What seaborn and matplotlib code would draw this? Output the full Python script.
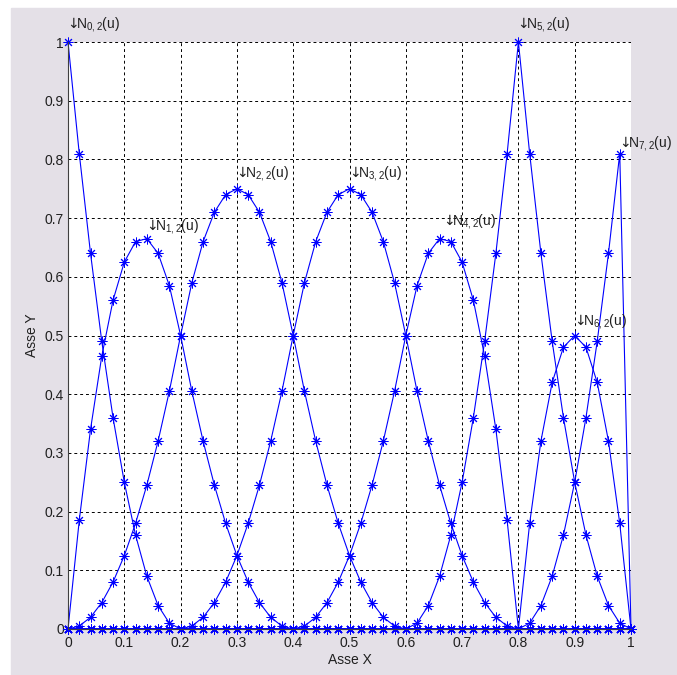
import numpy as np
import pandas as pd
import seaborn as sns
import matplotlib.pyplot as plt
from matplotlib.patches import Rectangle

# parametro u (passo 0.02)
u = [0.00, 0.02, 0.04, 0.06, 0.08, 0.10, 0.12, 0.14, 0.16, 0.18,
     0.20, 0.22, 0.24, 0.26, 0.28, 0.30, 0.32, 0.34, 0.36, 0.38,
     0.40, 0.42, 0.44, 0.46, 0.48, 0.50, 0.52, 0.54, 0.56, 0.58,
     0.60, 0.62, 0.64, 0.66, 0.68, 0.70, 0.72, 0.74, 0.76, 0.78,
     0.80, 0.82, 0.84, 0.86, 0.88, 0.90, 0.92, 0.94, 0.96, 0.98,
     1.00]

# funzioni di base N_{i,2}(u)
N0 = [1, .81, .64, .49, .36, .25, .16, .09, .04, .01, 0] + [0] * 40
N1 = [0, .185, .34, .465, .56, .625, .66, .665, .64, .585,
      .5, .405, .32, .245, .18, .125, .08, .045, .02, .005] + [0] * 31
N2 = [0, .005, .02, .045, .08, .125, .18, .245, .32, .405,
      .5, .59, .66, .71, .74, .75, .74, .71, .66, .59,
      .5, .405, .32, .245, .18, .125, .08, .045, .02, .005] + [0] * 21
N3 = [0] * 10 + [0, .005, .02, .045, .08, .125, .18, .245, .32, .405,
                 .5, .59, .66, .71, .74, .75, .74, .71, .66, .59,
                 .5, .405, .32, .245, .18, .125, .08, .045, .02, .005] + [0] * 11
N4 = [0] * 20 + [0, .005, .02, .045, .08, .125, .18, .245, .32, .405,
                 .5, .585, .64, .665, .66, .625, .56, .465, .34, .185] + [0] * 11
N5 = [0] * 30 + [0, .01, .04, .09, .16, .25, .36, .49, .64, .81,
                 1, .81, .64, .49, .36, .25, .16, .09, .04, .01, 0]
N6 = [0] * 40 + [0, .18, .32, .42, .48, .5, .48, .42, .32, .18, 0]
N7 = [0] * 40 + [0, .01, .04, .09, .16, .25, .36, .49, .64, .81, 0]

curves = [N0, N1, N2, N3, N4, N5, N6, N7]

# etichette e posizioni delle frecce
label_names = ['0,2', '1,2', '2,2', '3,2', '4,2', '5,2', '6,2', '7,2']
label_x = [0.0, 0.14, 0.30, 0.50, 0.667, 0.80, 0.90, 0.98]
label_y = [1.024, 0.68, 0.77, 0.77, 0.688, 1.024, 0.518, 0.821]

xticks = [0, 0.1, 0.2, 0.3, 0.4, 0.5, 0.6, 0.7, 0.8, 0.9, 1]
tick_labels = ['0', '0.1', '0.2', '0.3', '0.4', '0.5', '0.6', '0.7', '0.8', '0.9', '1']

df = pd.concat([pd.DataFrame({'u': u, 'N': c, 'curve': i}) for i, c in enumerate(curves)],
               ignore_index=True)

sns.set_style('white')
plt.rcParams['font.family'] = ['Liberation Sans', 'DejaVu Sans']
plt.rcParams['mathtext.fontset'] = 'dejavusans'

fig = plt.figure(figsize=(6.77, 6.75), dpi=100, facecolor='white')
fig.add_artist(Rectangle((11 / 677, 0), 1 - 11 / 677, 1 - 8 / 675,
                         transform=fig.transFigure, color='#e4e0e7', zorder=0))
ax = fig.add_axes([68 / 677, 1 - 629 / 675, 563 / 677, 587 / 675])
ax.set_facecolor('white')

sns.lineplot(data=df, x='u', y='N', units='curve', estimator=None, sort=False,
             color='blue', linewidth=0.8, marker=(8, 2, 0), markersize=7,
             markeredgecolor='blue', markeredgewidth=0.7, clip_on=False,
             legend=False, ax=ax)

# freccia senza lo spazio da simbolo di relazione
for name, lx, ly in zip(label_names, label_x, label_y):
    ax.text(lx, ly, '$\\!\\!\\downarrow\\!\\!$N$_{\\mathregular{' + name + '}}$(u)',
            ha='left', va='baseline', fontsize=10, color='#202020')

ax.set_xlim(0, 1)
ax.set_ylim(0, 1)
ax.set_xticks(xticks)
ax.set_xticklabels(tick_labels)
ax.set_yticks(xticks)
ax.set_yticklabels(tick_labels)
ax.tick_params(direction='in', length=5, width=0.8, color='#404040',
               labelsize=10, labelcolor='#202020')
ax.tick_params(axis='x', pad=5)
ax.tick_params(axis='y', pad=3)
ax.grid(True, color='black', linestyle=(0, (3, 3)), linewidth=0.7)
ax.set_axisbelow(True)

for s in ['top', 'right']:
    ax.spines[s].set_visible(False)
for s in ['left', 'bottom']:
    ax.spines[s].set_color('#404040')
    ax.spines[s].set_linewidth(0.8)

ax.set_xlabel('Asse X', fontsize=10, color='#202020', labelpad=2)
ax.set_ylabel('Asse Y', fontsize=10, color='#202020', labelpad=4)

fig.savefig('out.png', dpi=100)
